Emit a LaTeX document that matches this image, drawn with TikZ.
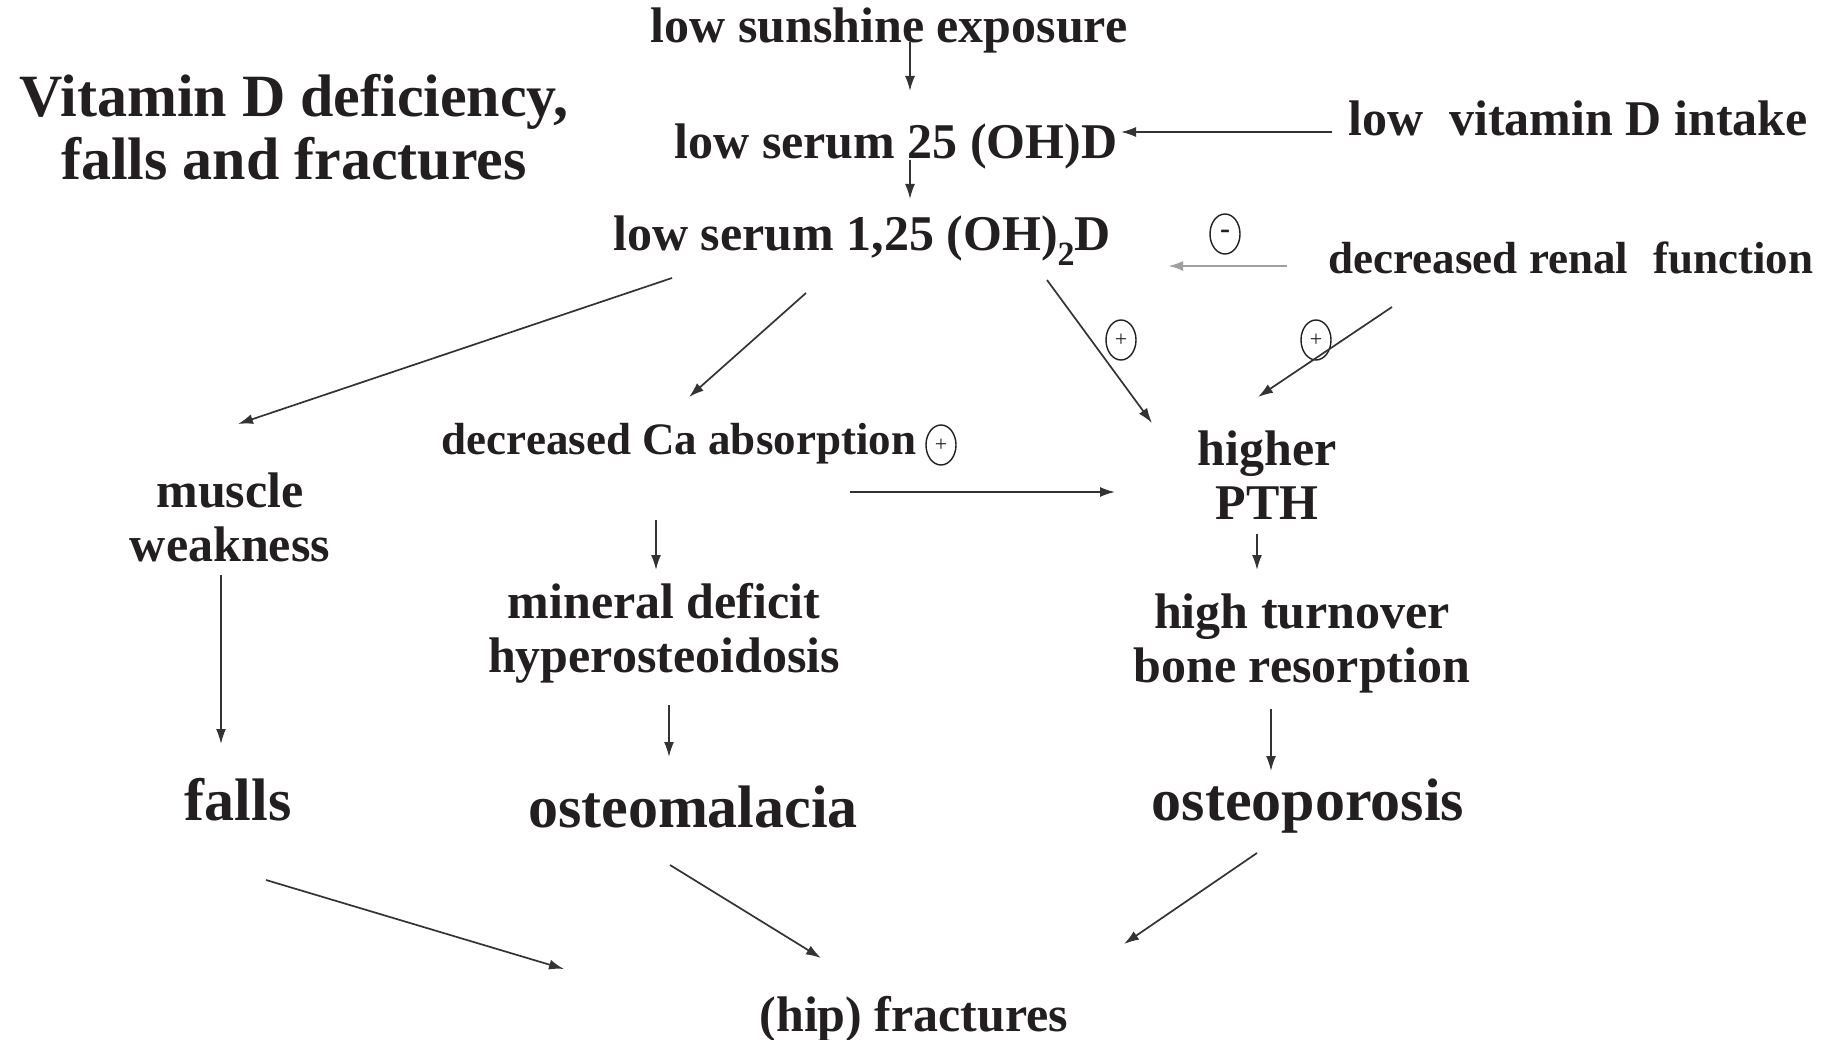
\documentclass[tikz,border=0pt]{standalone}
\usepackage{fontspec}
\setmainfont{Liberation Serif}
\usetikzlibrary{arrows.meta,shapes.geometric}
\definecolor{ink}{HTML}{231F20}
\definecolor{arr}{HTML}{333333}
\definecolor{lightarr}{HTML}{A0A0A0}
\begin{document}
\begin{tikzpicture}[x=1pt,y=-1pt,
  lab/.style={font=\fontsize{50}{54}\selectfont\bfseries, inner sep=0pt, text=ink, align=center},
  labs/.style={font=\fontsize{45}{50}\selectfont\bfseries, inner sep=0pt, text=ink, align=center},
  labb/.style={font=\fontsize{60}{63}\selectfont\bfseries, inner sep=0pt, text=ink, align=center},
  conn/.style={draw=arr, line width=1.7pt, -{Latex[length=15pt,width=10pt]}},
  sign/.style={ellipse, draw=ink, line width=1.4pt, minimum width=30pt, minimum height=40pt, inner sep=0pt, text=ink}
]
\useasboundingbox (0,0) rectangle (1832,1040);

% nodes
\node[labb, anchor=north] (title) at (294,74) {Vitamin D deficiency,\\falls and fractures};
\node[lab, anchor=base] (sun) at (889,43) {low sunshine exposure};
\node[lab, anchor=base] (s25) at (896,159) {low serum 25 (OH)D};
\node[lab, anchor=base] (vit) at (1578,136) {low\hspace{26pt}vitamin D intake};
\node[lab, anchor=base] (s125) at (862,251) {low serum 1,25 (OH)\raisebox{-0.3em}{\fontsize{34}{34}\selectfont 2}D};
\node[labs, anchor=base] (renal) at (1571,274) {decreased renal\hspace{25pt}function};
\node[labs, anchor=base] (ca) at (679,455) {decreased Ca absorption};
\node[lab, anchor=north] (pth) at (1267,431) {higher\\PTH};
\node[lab, anchor=north] (mw) at (230,473) {muscle\\weakness};
\node[lab, anchor=north] (md) at (664,583) {mineral deficit\\hyperosteoidosis};
\node[lab, anchor=north] (ht) at (1302,594) {high turnover\\bone resorption};
\node[labb, anchor=base] (falls) at (238,820) {falls};
\node[labb, anchor=base] (om) at (693,827) {osteomalacia};
\node[labb, anchor=base] (op) at (1308,820) {osteoporosis};
\node[lab, anchor=base] (hip) at (914,1031) {(hip) fractures};

% signs
\node[sign, font=\fontsize{30}{30}\selectfont\bfseries] (minus) at (1225,234) {-};
\node[sign, font=\fontsize{22}{22}\selectfont] (plus1) at (1121,340) {+};
\node[sign, font=\fontsize{22}{22}\selectfont] (plus2) at (1316,340) {+};
\node[sign, font=\fontsize{22}{22}\selectfont] (plus3) at (941,445) {+};

% connectors
\draw[conn] ([shift={(21,-1)}]sun.base) -- ([shift={(14,-68)}]s25.base);
\draw[conn] ([shift={(-246,-4)}]vit.base) -- ([shift={(225,-27)}]s25.base);
\draw[conn] ([shift={(14,1)}]s25.base) -- ([shift={(48,-52)}]s125.base);
\draw[conn, draw=lightarr, line width=2.4pt] ([shift={(-284,-8)}]renal.base) -- ([shift={(306,15)}]s125.base);
\draw[conn] ([shift={(-190,27)}]s125.base) -- ([shift={(8,-49)}]mw.north);
\draw[conn] ([shift={(-56,42)}]s125.base) -- ([shift={(10,-58)}]ca.base);
\draw[conn] ([shift={(185,29)}]s125.base) -- ([shift={(-115,-8)}]pth.north);
\draw[conn] ([shift={(-179,33)}]renal.base) -- ([shift={(-9,-34)}]pth.north);
\draw[conn] ([shift={(171,37)}]ca.base) -- ([shift={(-152,61)}]pth.north);
\draw[conn] ([shift={(-23,65)}]ca.base) -- ([shift={(-8,-13)}]md.north);
\draw[conn] ([shift={(-10,103)}]pth.north) -- ([shift={(-45,-24)}]ht.north);
\draw[conn] ([shift={(-9,102)}]mw.north) -- ([shift={(-17,-76)}]falls.base);
\draw[conn] ([shift={(5,122)}]md.north) -- ([shift={(-24,-70)}]om.base);
\draw[conn] ([shift={(-31,115)}]ht.north) -- ([shift={(-37,-49)}]op.base);
\draw[conn] ([shift={(28,60)}]falls.base) -- ([shift={(-350,-62)}]hip.base);
\draw[conn] ([shift={(-23,38)}]om.base) -- ([shift={(-93,-73)}]hip.base);
\draw[conn] ([shift={(-51,33)}]op.base) -- ([shift={(210,-87)}]hip.base);
\end{tikzpicture}
\end{document}
